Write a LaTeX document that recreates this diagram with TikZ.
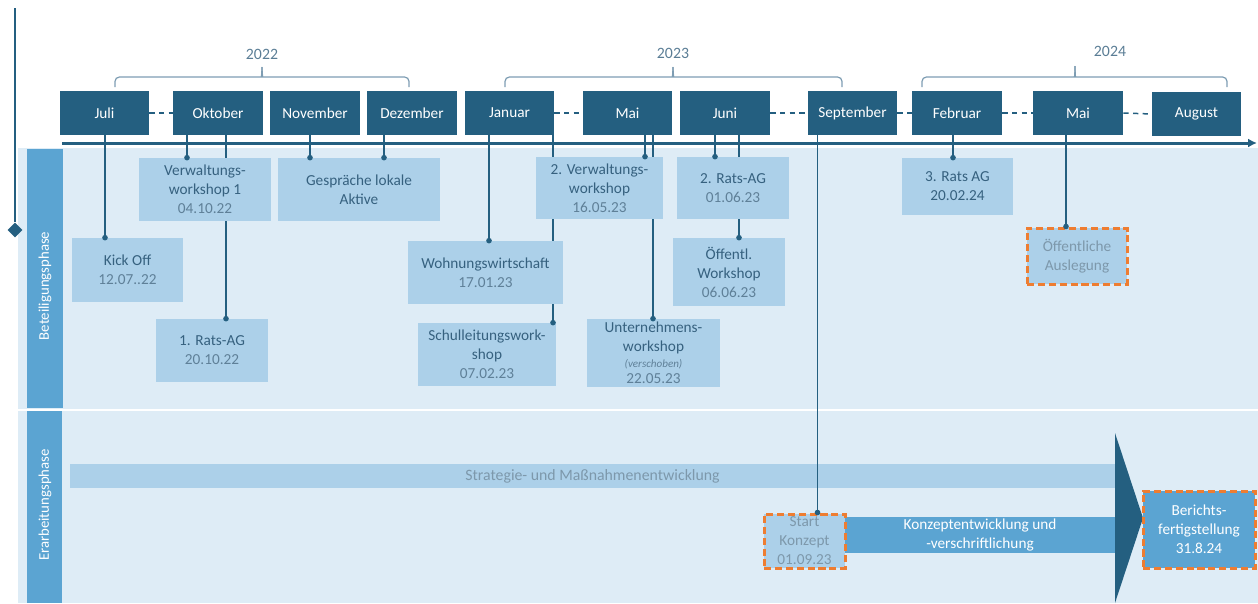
\documentclass[tikz,border=0pt]{standalone}
\usepackage{fontspec}
\setmainfont{Carlito}
\usetikzlibrary{calc,arrows.meta,shapes.geometric}
\definecolor{dkb}{HTML}{245F80}
\definecolor{panel}{HTML}{DEECF6}
\definecolor{lbox}{HTML}{ACD0E9}
\definecolor{mbar}{HTML}{5BA4D2}
\definecolor{ttl}{HTML}{36617F}
\definecolor{dat}{HTML}{5F8098}
\definecolor{gry}{HTML}{7D98AB}
\definecolor{org}{HTML}{EE7D31}
\definecolor{brc}{HTML}{7E9DB3}
\definecolor{yr}{HTML}{5A7D95}
\pgfdeclarelayer{panel}\pgfdeclarelayer{lines}\pgfsetlayers{panel,lines,main}
\newcommand\bx[7]{\node[#6, minimum width={(#4-#2)*0.02cm}, minimum height={(#5-#3)*0.02cm}] (#1) at ({(#2+#4)/2},{(#3+#5)/2}) {#7};}
\newcommand\dt[1]{\textcolor{dat}{#1}}
% connector: #1 name, #2 start anchor, #3 shift in px, #4 target anchor
\newcommand\cn[4]{\coordinate (#1) at ($(#2)+(#3,0)$);
  \begin{pgfonlayer}{lines}\draw[conn] (#1) -- (#1 |- #4);\end{pgfonlayer}
  \node[dot] at (#1 |- #4) {};}
\tikzset{
  fs/.style={font=\fontsize{8.7}{10.8}\selectfont},
  month/.style={fill=dkb, text=white, inner sep=0pt, fs},
  ev/.style={fill=lbox, text=ttl, inner sep=0pt, align=center, fs},
  bar1/.style={fill=lbox, text=gry, inner sep=0pt, font=\fontsize{9}{11}\selectfont},
  bar2/.style={fill=mbar, text=white, inner sep=0pt, align=center, fs},
  hl/.style={draw=org, line width=1.7pt, dash pattern=on 4pt off 2.2pt},
  conn/.style={draw=dkb, line width=0.85pt},
  dot/.style={circle, fill=dkb, inner sep=0pt, minimum size=3.2pt},
  mdash/.style={draw=dkb, line width=0.85pt, dash pattern=on 3pt off 2.5pt},
  brace/.style={draw=brc, line width=0.7pt, rounded corners=2.5pt},
  year/.style={text=yr, font=\fontsize{9}{11}\selectfont},
  side/.style={rotate=90, text=white, font=\fontsize{8.4}{10}\selectfont},
}
\begin{document}
\begin{tikzpicture}[x=0.02cm, y=-0.02cm]
\useasboundingbox (0,0) rectangle (1258,603);
% panel
\begin{pgfonlayer}{panel}
\fill[panel] (18,148) rectangle (1258,603);
\draw[white, line width=1pt] (18,410) -- (1258,410);
\fill[mbar] (27,149) rectangle (63,408);
\fill[mbar] (27,411) rectangle (62,603);
\node[side] (lab1) at (45,286) {Beteiligungsphase};
\node[side] (lab2) at (45,505) {Erarbeitungsphase};
\end{pgfonlayer}
% left marker
\coordinate (ltop) at (15,8);
\node[diamond, fill=dkb, inner sep=0pt, minimum size=0.3cm] (dia) at (15,230) {};
\draw[dkb, line width=1.2pt] (ltop) -- (dia);
% axis
\coordinate (axL) at (62,143);
\coordinate (axR) at (1257,143);
\draw[dkb, line width=1.7pt, -{Latex[length=5pt,width=5pt]}] (axL) -- (axR);
% months
\bx{juli}{60}{91}{149}{135}{month}{Juli}
\bx{okt}{173}{91}{263}{135}{month}{Oktober}
\bx{nov}{270}{91}{360}{135}{month}{November}
\bx{dez}{367}{91}{457}{135}{month}{Dezember}
\bx{jan}{465}{91}{554}{135}{month}{Januar}
\bx{mai}{583}{91}{672}{135}{month}{Mai}
\bx{jun}{680}{91}{770}{135}{month}{Juni}
\bx{sep}{808}{91}{897}{135}{month}{September}
\bx{feb}{912}{91}{1002}{135}{month}{Februar}
\bx{maib}{1033}{91}{1123}{135}{month}{Mai}
\bx{aug}{1152}{92}{1241}{136}{month}{August}
\draw[mdash] (juli.east) -- (okt.west);
\draw[mdash] (jan.east) -- (mai.west);
\draw[mdash] (jun.east) -- (sep.west);
\draw[mdash] (sep.east) -- (feb.west);
\draw[mdash] (feb.east) -- (maib.west);
\draw[mdash] (maib.east) -- (aug.west);
% braces and years
\draw[brace] (115,87) -- (115,77) -- (257,77) to[out=0,in=-90] (262,67);
\draw[brace] (409,87) -- (409,77) -- (267,77) to[out=180,in=-90] (262,67);
\node[year] (y22) at (262,54) {2022};
\draw[brace] (505,87) -- (505,77) -- (668,77) to[out=0,in=-90] (673,67);
\draw[brace] (842,87) -- (842,77) -- (678,77) to[out=180,in=-90] (673,67);
\node[year] (y23) at (673,53) {2023};
\draw[brace] (922,87) -- (922,77) -- (1070,77) to[out=0,in=-90] (1075,66);
\draw[brace] (1227,87) -- (1227,77) -- (1080,77) to[out=180,in=-90] (1075,66);
\node[year] (y24) at (1110,51) {2024};
% events
\bx{vw1}{139}{158}{271}{221}{ev}{Verwaltungs-\\workshop 1\\\dt{04.10.22}}
\bx{gesp}{278}{158}{440}{221}{ev}{Gespräche lokale\\Aktive}
\bx{kick}{72}{238}{183}{302}{ev}{Kick Off\\\dt{12.07..22}}
\bx{rag1}{156}{319}{268}{382}{ev}{1. Rats-AG\\\dt{20.10.22}}
\bx{vw2}{536}{157}{663}{219}{ev}{2. Verwaltungs-\\workshop\\\dt{16.05.23}}
\bx{rag2}{677}{157}{789}{219}{ev}{2. Rats-AG\\\dt{01.06.23}}
\bx{wohn}{408}{241}{563}{304}{ev}{Wohnungswirtschaft\\\dt{17.01.23}}
\bx{schul}{418}{323}{556}{386}{ev}{Schulleitungswork-\\shop\\\dt{07.02.23}}
\bx{unt}{587}{319}{720}{387}{ev}{Unternehmens-\\workshop\\[-1.8pt]{\fontsize{6.3}{7}\selectfont\itshape\dt{(verschoben)}}\\[-1.8pt]\dt{22.05.23}}
\bx{oeff}{673}{238}{785}{306}{ev}{Öffentl.\\Workshop\\\dt{06.06.23}}
\bx{rag3}{902}{158}{1013}{215}{ev}{3. Rats AG\\20.02.24}
\bx{ausl}{1027}{228}{1127}{284}{ev,hl,text=gry}{Öffentliche\\Auslegung}
% lower section
\bx{strat}{70}{464}{1115}{488}{bar1}{Strategie- und Maßnahmenentwicklung}
\coordinate (trT) at (1115,433);
\coordinate (trP) at (1143,518);
\coordinate (trB) at (1115,603);
\fill[dkb] (trT) -- (trP) -- (trB) -- cycle;
\bx{konz}{845}{517}{1115}{553}{bar2}{Konzeptentwicklung und\\-verschriftlichung}
\bx{start}{764}{514}{845}{568}{ev,hl,text=gry}{Start\\Konzept\\01.09.23}
\bx{ber}{1143}{491}{1255}{568}{bar2,hl}{Berichts-\\fertigstellung\\31.8.24}
% connectors
\cn{c1}{juli.south}{0.5}{kick.north}
\cn{c2}{okt.south}{-31}{vw1.north}
\cn{c3}{okt.south}{8}{rag1.north}
\cn{c4}{nov.south}{-5}{gesp.north}
\cn{c5}{dez.south}{-28}{gesp.north}
\cn{c6}{jan.south}{-20.5}{wohn.north}
\cn{c7}{jan.south}{43.5}{schul.north}
\cn{c8}{mai.south}{17.5}{vw2.north}
\cn{c9}{mai.south}{25.5}{unt.north}
\cn{c10}{jun.south}{-10}{rag2.north}
\cn{c11}{jun.south}{14}{oeff.north}
\cn{c13}{feb.south}{-4}{rag3.north}
\cn{c14}{maib.south}{-12}{ausl.north}
\coordinate (c12) at ($(sep.south)+(-35,0)$);
\draw[conn] (c12) -- (c12 |- start.north);
\node[dot] at (c12 |- start.north) {};
\end{tikzpicture}
\end{document}
